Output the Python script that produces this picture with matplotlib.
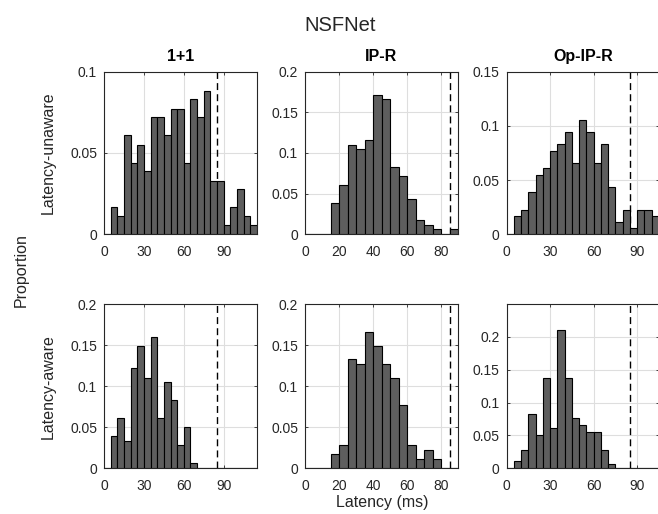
import numpy as np
import matplotlib.pyplot as plt
from matplotlib.ticker import FuncFormatter

plt.rcParams['font.family'] = ['Liberation Sans', 'DejaVu Sans']

# latency histograms, proportion of demands per 5 ms bin (bins start at 0 ms)
bin_w = 5
latency_bound = 85

unaware_11 = [0, 0.017, 0.011, 0.061, 0.044, 0.055, 0.039, 0.072, 0.072, 0.061, 0.077, 0.077,
              0.044, 0.083, 0.072, 0.088, 0.033, 0.033, 0.006, 0.017, 0.028, 0.011, 0.006]
unaware_ipr = [0, 0, 0, 0.039, 0.061, 0.110, 0.105, 0.116, 0.171, 0.166, 0.083, 0.072,
               0.044, 0.017, 0.011, 0.006, 0, 0.006]
unaware_opipr = [0, 0.017, 0.022, 0.039, 0.055, 0.061, 0.077, 0.083, 0.094, 0.066, 0.105,
                 0.094, 0.066, 0.083, 0.044, 0.011, 0.022, 0.006, 0.022, 0.022, 0.017]
aware_11 = [0, 0.039, 0.061, 0.033, 0.122, 0.149, 0.110, 0.160, 0.061, 0.105, 0.083, 0.028,
            0.050, 0.006, 0, 0, 0, 0, 0, 0, 0, 0, 0]
aware_ipr = [0, 0, 0, 0.017, 0.028, 0.133, 0.127, 0.166, 0.149, 0.127, 0.110, 0.077,
             0.028, 0.011, 0.022, 0.011, 0, 0]
aware_opipr = [0, 0.011, 0.028, 0.083, 0.050, 0.138, 0.061, 0.210, 0.138, 0.077, 0.066,
               0.055, 0.055, 0.028, 0.006, 0, 0, 0, 0, 0, 0]

schemes = ['1+1', 'IP-R', 'Op-IP-R']
row_names = ['Latency-unaware', 'Latency-aware']
data = [[unaware_11, unaware_ipr, unaware_opipr],
        [aware_11, aware_ipr, aware_opipr]]

x_max = [115, 90, 105]
x_ticks = [[0, 30, 60, 90], [0, 20, 40, 60, 80], [0, 30, 60, 90]]
y_max = [[0.1, 0.2, 0.15], [0.2, 0.2, 0.25]]
y_ticks = [[[0, 0.05, 0.1], [0, 0.05, 0.1, 0.15, 0.2], [0, 0.05, 0.1, 0.15]],
           [[0, 0.05, 0.1, 0.15, 0.2], [0, 0.05, 0.1, 0.15, 0.2], [0, 0.05, 0.1, 0.15, 0.2]]]

W, H = 658, 514
fig = plt.figure(figsize=(W / 100, H / 100), dpi=100)

# axes layout in pixels
col_left = [104, 305, 506.5]
col_width = [153, 153, 152.5]
row_top = [71.7, 304]
row_height = [162.6, 164.3]

axis_col = '#262626'

for r in range(2):
    for c in range(3):
        ax = fig.add_axes([col_left[c] / W, 1 - (row_top[r] + row_height[r]) / H,
                           col_width[c] / W, row_height[r] / H])
        vals = data[r][c]
        edges = np.arange(len(vals)) * bin_w
        ax.bar(edges, vals, width=bin_w, align='edge', color='#5e5e5e',
               edgecolor='black', linewidth=0.8, zorder=3)
        ax.plot([latency_bound, latency_bound], [0, y_max[r][c]], color='black',
                linewidth=1.0, linestyle=(0, (5, 3)), zorder=2)
        ax.set_xlim(0, x_max[c])
        ax.set_ylim(0, y_max[r][c])
        ax.set_xticks(x_ticks[c])
        ax.set_yticks(y_ticks[r][c])
        ax.yaxis.set_major_formatter(FuncFormatter(lambda v, p: '%g' % v))
        ax.grid(True, color='#dedede', linewidth=0.8, zorder=0)
        ax.set_axisbelow(True)
        ax.tick_params(direction='in', top=True, right=True, length=2.5, width=0.6,
                       color=axis_col, labelcolor='#262626', labelsize=10)
        ax.tick_params(axis='x', pad=8)
        ax.tick_params(axis='y', pad=5)
        for s in ax.spines.values():
            s.set_color(axis_col)
            s.set_linewidth(0.8)
        if r == 0:
            ax.set_title(schemes[c], fontsize=11.5, fontweight='bold', pad=7.4)

# row and shared labels
for r in range(2):
    yc = row_top[r] + row_height[r] / 2
    fig.text(48 / W, 1 - yc / H, row_names[r], rotation=90, ha='center', va='center',
             fontsize=11.5, color='#262626')
fig.text(21 / W, 1 - 270 / H, 'Proportion', rotation=90, ha='center', va='center',
         fontsize=11.5, color='#262626')
fig.text(382 / W, 1 - 506.7 / H, 'Latency (ms)', ha='center', va='baseline',
         fontsize=11.5, color='#262626')
fig.text(340 / W, 1 - 30.7 / H, 'NSFNet', ha='center', va='baseline', fontsize=14.5,
         color='#262626')

fig.savefig('out.png', dpi=100)
